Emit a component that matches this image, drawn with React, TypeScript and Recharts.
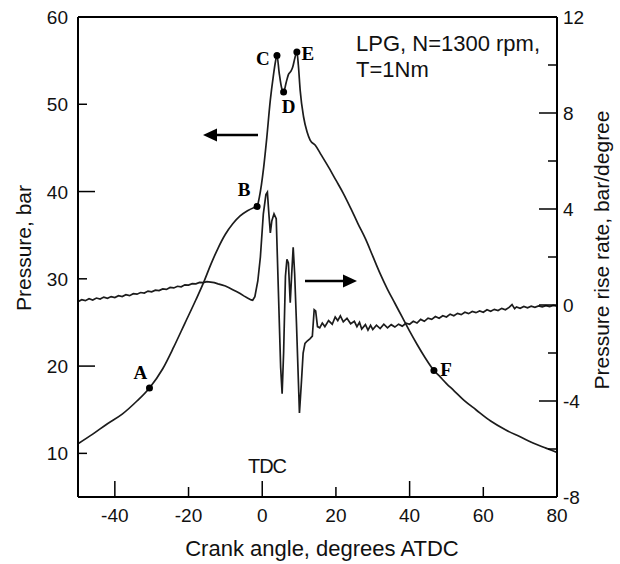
import React from 'react';
import { LineChart, Line, XAxis, YAxis, ReferenceLine, ReferenceDot } from 'recharts';

const FONT = '"Liberation Sans", Arial, Helvetica, sans-serif';
const SERIF = '"Liberation Serif", "Times New Roman", serif';
const INK = '#1c1c1c';

// crank angle ticks (degrees ATDC)
const angleTicks = [-40, -20, 0, 20, 40, 60, 80];
const pressureTicks = [10, 20, 30, 40, 50, 60];
const rateTicks = [-8, -6, -4, -2, 0, 2, 4, 6, 8, 10, 12];

// cylinder pressure, bar
const pressureAngle = [
  -50, -46, -42, -38, -34, -30.6, -27, -24, -21, -18, -15.7, -14, -12, -10, -8, -6, -4, -2, -1.4,
  -0.8, 0.4, 1.2, 2.2, 3.0, 3.6, 4.0, 4.6, 5.3, 5.8, 6.5, 7.1, 7.8, 8.3, 8.8, 9.4, 9.8, 10.3,
  11.2, 12.2, 13.0, 14.4, 16, 18, 20, 22, 24, 26, 28, 30, 32, 34, 36, 38, 40, 42, 44, 46.6, 48,
  50, 52, 54.7, 58, 62, 66, 70, 74, 77, 80,
];
const pressureBar = [
  11.1, 12.2, 13.4, 14.5, 16.0, 17.5, 19.7, 22.2, 24.9, 27.6, 29.8, 31.6, 33.5, 35.1, 36.3, 37.2,
  37.8, 38.2, 38.3, 39.3, 42.8, 46.0, 50.5, 53.2, 54.9, 55.6, 53.6, 51.8, 51.4, 52.5, 53.4, 53.8,
  54.3, 55.2, 56.0, 54.5, 51.6, 48.6, 46.8, 45.9, 45.3, 44.2, 42.8, 41.3, 39.8, 38.1, 36.3, 34.6,
  32.6, 30.6, 28.8, 27.2, 25.6, 24.0, 22.5, 21.1, 19.5, 18.9, 18.0, 17.2, 16.1, 15.0, 13.7, 12.7,
  11.9, 11.1, 10.6, 10.1,
];

// pressure rise rate, bar/degree
const rateAngle = [
  -50, -49, -48, -47, -46, -45, -44, -43, -42, -41, -40, -39, -38, -37, -36, -35, -34, -33, -32,
  -31, -30, -29, -28, -27, -26, -25, -24, -23, -22, -21, -20, -19, -18, -17, -16, -15, -14, -13,
  -12, -11, -10, -9, -8, -7, -6, -5, -4, -3, -2.6, -2, -1.2, -0.5, 0.3, 1.0, 1.4, 1.8, 2.2, 2.6,
  3.2, 3.8, 4.4, 5.0, 5.4, 5.8, 6.3, 6.7, 7.1, 7.6, 8.0, 8.4, 8.8, 9.3, 10.1, 10.6, 11.1, 11.6,
  12.2, 13.0, 13.6, 14.1, 14.5, 15.0, 15.6, 16.3, 17, 18, 19, 19.8, 20.5, 21.2, 22, 23, 24, 25,
  25.7, 26.4, 27, 28, 28.7, 29.4, 30, 31, 32, 33, 34, 35, 36, 37, 38, 39, 40, 41, 42, 43, 44, 45,
  46, 47, 48, 49, 50, 51, 52, 53, 54, 55, 56, 57, 58, 59, 60, 61, 62, 63, 64, 65, 66, 67, 67.8,
  68.5, 69, 70, 71, 72, 73, 74, 75, 76, 77, 78, 79, 80,
];
const rateValue = [
  0.14, 0.22, 0.18, 0.26, 0.21, 0.29, 0.25, 0.33, 0.28, 0.35, 0.31, 0.39, 0.35, 0.43, 0.39, 0.47,
  0.45, 0.52, 0.5, 0.58, 0.55, 0.62, 0.6, 0.67, 0.65, 0.73, 0.71, 0.78, 0.76, 0.84, 0.83, 0.89,
  0.88, 0.94, 0.93, 0.97, 0.95, 0.93, 0.88, 0.84, 0.79, 0.72, 0.64, 0.56, 0.48, 0.38, 0.29, 0.21,
  0.2, 0.35, 1.0, 2.0, 3.8, 4.6, 4.7, 3.8, 3.0, 3.5, 3.8, 3.6, 0.5, -2.6, -3.7, -2.0, 1.2, 1.9,
  1.75, 0.1, 1.3, 2.4, 1.3, -0.8, -4.5, -3.3, -2.0, -1.6, -1.5, -1.4, -1.3, -0.2, -0.25, -0.9,
  -0.95, -0.75, -0.9, -0.65, -0.8, -0.5, -0.65, -0.45, -0.7, -0.55, -0.78, -0.68, -0.9, -0.72,
  -1.0, -0.82, -1.05, -0.85, -1.02, -0.84, -0.98, -0.8, -0.95, -0.82, -0.92, -0.8, -0.88, -0.76,
  -0.8, -0.68, -0.75, -0.6, -0.68, -0.55, -0.6, -0.48, -0.55, -0.45, -0.5, -0.38, -0.45, -0.35,
  -0.4, -0.3, -0.36, -0.27, -0.32, -0.25, -0.3, -0.2, -0.26, -0.18, -0.23, -0.14, -0.2, -0.1,
  0.02, -0.15, -0.08, -0.14, -0.06, -0.12, -0.05, -0.1, -0.04, -0.08, -0.03, -0.07, -0.02, -0.05,
];

// labelled points on the pressure trace
const markerNames = ['A', 'B', 'C', 'D', 'E', 'F'];
const markerAngle = [-30.6, -1.4, 4.0, 5.8, 9.4, 46.6];
const markerPressure = [17.5, 38.3, 55.6, 51.4, 56.0, 19.5];
// where each letter sits relative to its dot
const markerOffset: Record<string, [number, number]> = {
  A: [-9, -9],
  B: [-13, -10],
  C: [-14, 10],
  D: [5, 21],
  E: [11, 8],
  F: [12, 6],
};

const pressureData = pressureAngle.map((angle, i) => ({ angle, value: pressureBar[i] }));
const rateData = rateAngle.map((angle, i) => ({ angle, value: rateValue[i] }));

const AngleTick = (props: any) => {
  const { x, y, payload } = props;
  const long = payload.value % 40 === 0;
  return (
    <g>
      <line x1={x} x2={x} y1={y} y2={y - (long ? 16 : 10)} stroke="#000" strokeWidth={1.5} />
      <text x={x} y={y + 25} textAnchor="middle" fontSize={19} fontFamily={FONT} fill="#111">
        {payload.value}
      </text>
    </g>
  );
};

const PressureTick = (props: any) => {
  const { x, y, payload } = props;
  const long = payload.value % 20 === 0;
  return (
    <g>
      <line x1={x} x2={x + (long ? 17 : 9)} y1={y} y2={y} stroke="#000" strokeWidth={1.5} />
      <text x={x - 10} y={y + 7} textAnchor="end" fontSize={19} fontFamily={FONT} fill="#111">
        {payload.value}
      </text>
    </g>
  );
};

const RateTick = (props: any) => {
  const { x, y, payload } = props;
  const major = payload.value % 4 === 0;
  return (
    <g>
      <line x1={x} x2={x - (major ? 18 : 9)} y1={y} y2={y} stroke="#000" strokeWidth={1.5} />
      {major && (
        <text x={x + 6} y={y + 7} textAnchor="start" fontSize={19} fontFamily={FONT} fill="#111">
          {payload.value}
        </text>
      )}
    </g>
  );
};

const markerShape = (name: string) => (props: any) => {
  const { cx, cy } = props;
  const [dx, dy] = markerOffset[name];
  return (
    <g>
      <circle cx={cx} cy={cy} r={3.5} fill="#000" />
      <text
        x={cx + dx}
        y={cy + dy}
        textAnchor="middle"
        fontSize={19}
        fontWeight="bold"
        fontFamily={SERIF}
        fill="#000"
      >
        {name}
      </text>
    </g>
  );
};

export default function App() {
  return (
    <div style={{ position: 'absolute', left: 0, top: 0, width: 620, height: 564, background: '#fff' }}>
      <LineChart width={620} height={564} margin={{ top: 17, right: 23, bottom: 27, left: 18 }}>
        <XAxis
          type="number"
          dataKey="angle"
          domain={[-50, 80]}
          ticks={angleTicks}
          interval={0}
          allowDataOverflow
          height={40}
          tickSize={0}
          tickMargin={0}
          tickLine={false}
          tick={AngleTick}
          axisLine={{ stroke: '#000', strokeWidth: 2 }}
        />
        <YAxis
          yAxisId="p"
          type="number"
          domain={[5, 60]}
          ticks={pressureTicks}
          interval={0}
          allowDataOverflow
          width={60}
          tickSize={0}
          tickMargin={0}
          tickLine={false}
          tick={PressureTick}
          axisLine={{ stroke: '#000', strokeWidth: 2 }}
        />
        <YAxis
          yAxisId="r"
          orientation="right"
          type="number"
          domain={[-8, 12]}
          ticks={rateTicks}
          interval={0}
          allowDataOverflow
          width={40}
          tickSize={0}
          tickMargin={0}
          tickLine={false}
          tick={RateTick}
          axisLine={{ stroke: '#000', strokeWidth: 2 }}
        />
        <ReferenceLine yAxisId="p" y={60} stroke="#000" strokeWidth={2} />
        <Line
          yAxisId="r"
          data={rateData}
          dataKey="value"
          type="linear"
          stroke={INK}
          strokeWidth={1.7}
          dot={false}
          isAnimationActive={false}
        />
        <Line
          yAxisId="p"
          data={pressureData}
          dataKey="value"
          type="monotone"
          stroke={INK}
          strokeWidth={1.7}
          dot={false}
          isAnimationActive={false}
        />
        {markerNames.map((name, i) => (
          <ReferenceDot
            key={name}
            yAxisId="p"
            x={markerAngle[i]}
            y={markerPressure[i]}
            r={3.5}
            shape={markerShape(name)}
          />
        ))}
      </LineChart>
      <svg
        width={620}
        height={564}
        style={{ position: 'absolute', left: 0, top: 0, pointerEvents: 'none' }}
      >
        <g fontFamily={FONT} fill="#111">
          <text x={31} y={248} fontSize={21} textAnchor="middle" transform="rotate(-90 31 248)">
            Pressure, bar
          </text>
          <text x={609} y={250} fontSize={21} textAnchor="middle" transform="rotate(-90 609 250)">
            Pressure rise rate, bar/degree
          </text>
          <text x={322} y={556} fontSize={22} textAnchor="middle">
            Crank angle, degrees ATDC
          </text>
          <text x={356} y={51} fontSize={22}>
            LPG, N=1300 rpm,
          </text>
          <text x={356} y={77} fontSize={22}>
            T=1Nm
          </text>
          <text x={267} y={473} fontSize={20} textAnchor="middle" letterSpacing={-1}>
            TDC
          </text>
        </g>
        <g stroke="#000" strokeWidth={2.5} fill="#000">
          <line x1={258} y1={135} x2={214} y2={135} />
          <polygon points="203,135 217,128.5 217,141.5" stroke="none" />
          <line x1={305} y1={281} x2={345} y2={281} />
          <polygon points="357,281 343,274.5 343,287.5" stroke="none" />
        </g>
      </svg>
    </div>
  );
}
